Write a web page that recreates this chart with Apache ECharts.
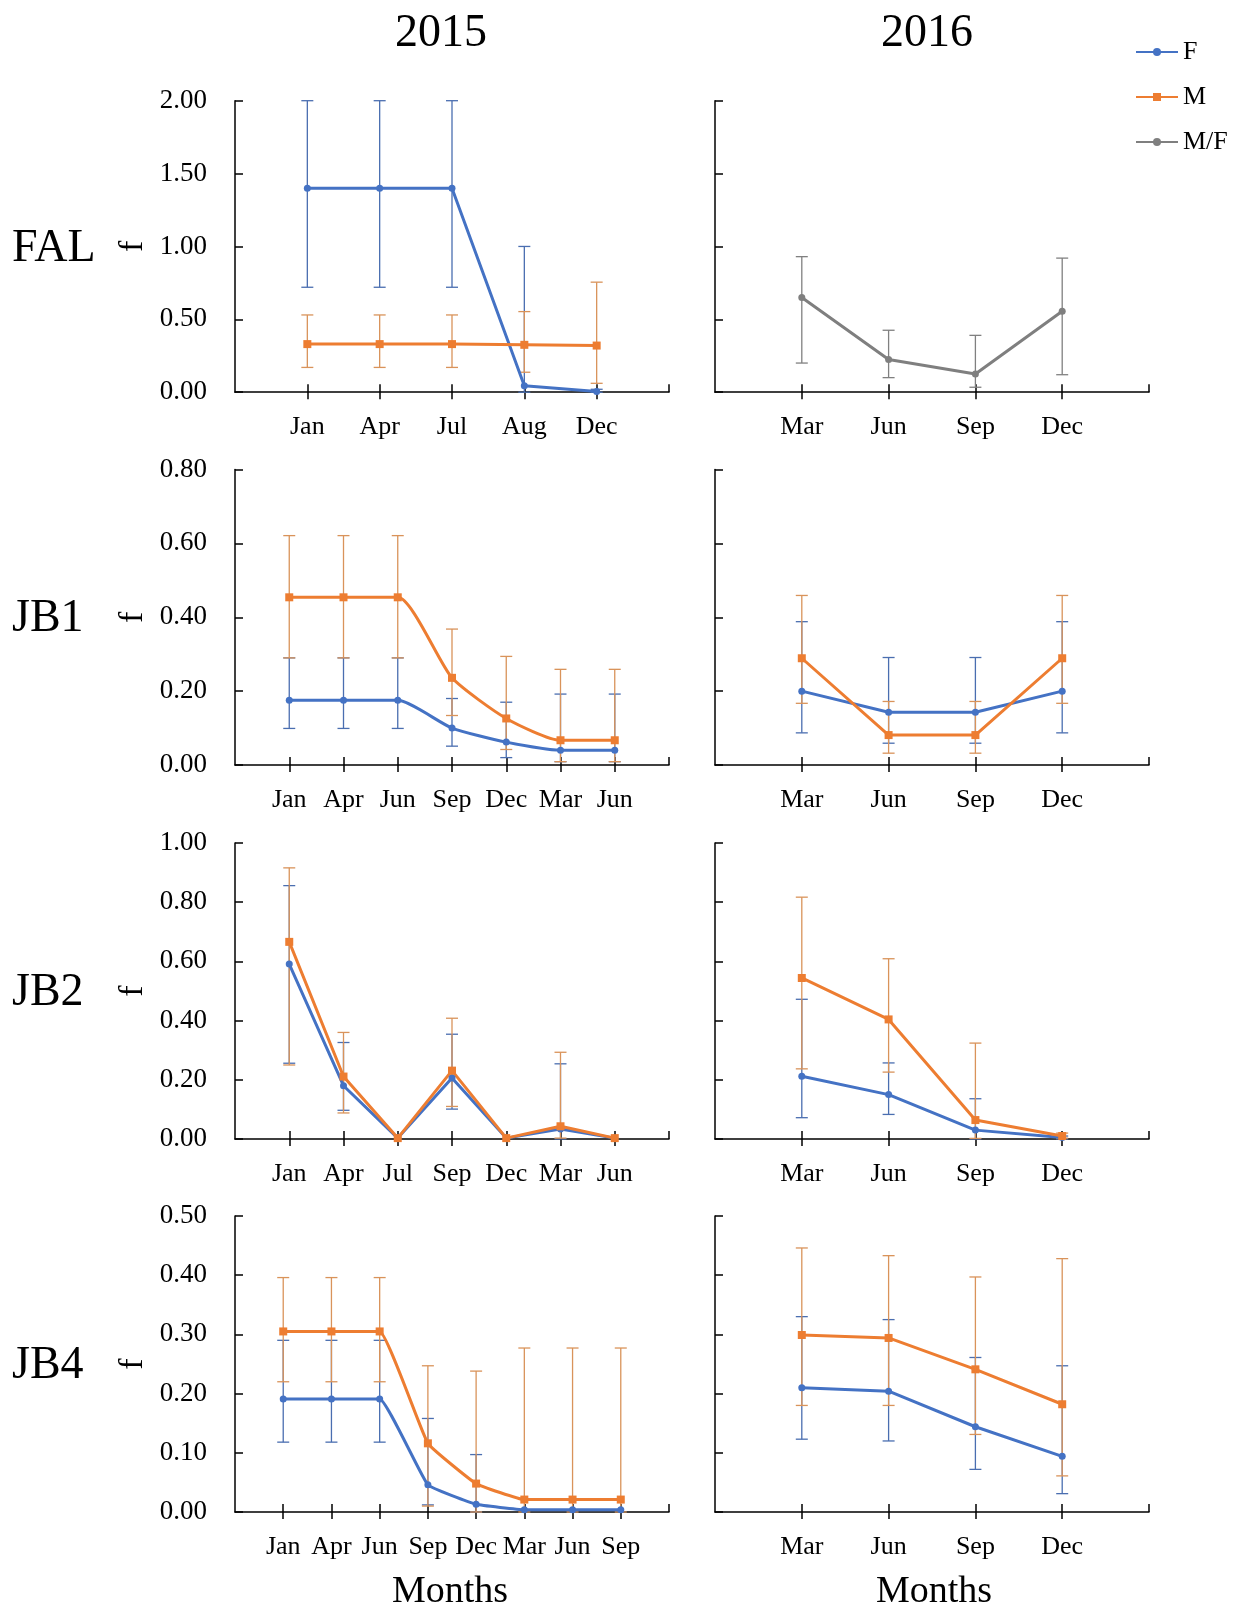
<!DOCTYPE html>
<html>
<head>
<meta charset="utf-8">
<script src="https://cdn.jsdelivr.net/npm/echarts@6/dist/echarts.min.js"></script>
<style>
html,body{margin:0;padding:0;background:#fff;}
#chart{width:1242px;height:1610px;}
</style>
</head>
<body>
<div id="chart"></div>
<script>
// ---------- DATA ----------
const FAL15_cats = ['Jan','Apr','Jul','Aug','Dec'];
const FAL15_F    = [1.40,1.40,1.40,0.045,0.005];
const FAL15_F_lo = [0.72,0.72,0.72,0.0,0.0];
const FAL15_F_hi = [2.00,2.00,2.00,1.00,0.02];
const FAL15_M    = [0.33,0.33,0.33,0.325,0.32];
const FAL15_M_lo = [0.17,0.17,0.17,0.137,0.061];
const FAL15_M_hi = [0.53,0.53,0.53,0.553,0.755];

const FAL16_cats = ['Mar','Jun','Sep','Dec'];
const FAL16_MF    = [0.65,0.225,0.125,0.555];
const FAL16_MF_lo = [0.20,0.10,0.034,0.12];
const FAL16_MF_hi = [0.93,0.425,0.39,0.92];

const JB1_15_cats = ['Jan','Apr','Jun','Sep','Dec','Mar','Jun'];
const JB1_15_F    = [0.175,0.175,0.175,0.10,0.062,0.04,0.04];
const JB1_15_F_lo = [0.099,0.099,0.099,0.051,0.02,0.009,0.009];
const JB1_15_F_hi = [0.29,0.29,0.29,0.18,0.17,0.192,0.192];
const JB1_15_M    = [0.454,0.454,0.454,0.236,0.126,0.067,0.067];
const JB1_15_M_lo = [0.29,0.29,0.29,0.134,0.042,0.009,0.009];
const JB1_15_M_hi = [0.621,0.621,0.621,0.368,0.294,0.259,0.259];

const JB1_16_cats = ['Mar','Jun','Sep','Dec'];
const JB1_16_F    = [0.20,0.143,0.143,0.20];
const JB1_16_F_lo = [0.087,0.059,0.059,0.087];
const JB1_16_F_hi = [0.388,0.291,0.291,0.388];
const JB1_16_M    = [0.289,0.081,0.081,0.289];
const JB1_16_M_lo = [0.167,0.032,0.032,0.167];
const JB1_16_M_hi = [0.459,0.172,0.172,0.459];

const JB2_15_cats = ['Jan','Apr','Jul','Sep','Dec','Mar','Jun'];
const JB2_15_F    = [0.591,0.18,0.003,0.206,0.003,0.034,0.003];
const JB2_15_F_lo = [0.256,0.097,0.003,0.101,0.003,0.0,0.003];
const JB2_15_F_hi = [0.856,0.326,0.003,0.354,0.003,0.254,0.003];
const JB2_15_M    = [0.666,0.211,0.003,0.231,0.003,0.043,0.003];
const JB2_15_M_lo = [0.25,0.088,0.003,0.11,0.003,0.003,0.003];
const JB2_15_M_hi = [0.916,0.36,0.003,0.408,0.003,0.293,0.003];

const JB2_16_cats = ['Mar','Jun','Sep','Dec'];
const JB2_16_F    = [0.212,0.15,0.03,0.005];
const JB2_16_F_lo = [0.072,0.083,0.0,0.0];
const JB2_16_F_hi = [0.472,0.257,0.136,0.01];
const JB2_16_M    = [0.544,0.404,0.064,0.01];
const JB2_16_M_lo = [0.237,0.226,0.002,0.003];
const JB2_16_M_hi = [0.817,0.609,0.324,0.02];

const JB4_15_cats = ['Jan','Apr','Jun','Sep','Dec','Mar','Jun','Sep'];
const JB4_15_F    = [0.191,0.191,0.191,0.046,0.013,0.004,0.004,0.004];
const JB4_15_F_lo = [0.118,0.118,0.118,0.012,0.0,0.004,0.004,0.004];
const JB4_15_F_hi = [0.29,0.29,0.29,0.158,0.097,0.004,0.004,0.004];
const JB4_15_M    = [0.305,0.305,0.305,0.116,0.048,0.021,0.021,0.021];
const JB4_15_M_lo = [0.22,0.22,0.22,0.01,0.0,0.0,0.0,0.0];
const JB4_15_M_hi = [0.396,0.396,0.396,0.247,0.238,0.277,0.277,0.277];

const JB4_16_cats = ['Mar','Jun','Sep','Dec'];
const JB4_16_F    = [0.21,0.204,0.144,0.094];
const JB4_16_F_lo = [0.123,0.12,0.072,0.031];
const JB4_16_F_hi = [0.33,0.325,0.261,0.247];
const JB4_16_M    = [0.299,0.294,0.241,0.182];
const JB4_16_M_lo = [0.18,0.18,0.131,0.061];
const JB4_16_M_hi = [0.446,0.433,0.397,0.428];

const yearTitles = ['2015','2016'];
const rowLabels = ['FAL','JB1','JB2','JB4'];
const yMax = [2.0, 0.8, 1.0, 0.5];
const yInterval = [0.5, 0.2, 0.2, 0.1];

// ---------- LAYOUT ----------
const FONT = '"Liberation Serif", "Times New Roman", serif';
const COL_BLUE = '#4472C4', COL_ORANGE = '#ED7D31', COL_GRAY = '#7F7F7F';
const colLeft = [235, 715];
const colWidth = 434;
const rowTop = [100.7, 469.5, 843, 1216];
const rowH = [291.5, 295.5, 296, 296];

const panels = [
  {row:0,col:0,cats:FAL15_cats,series:[
    {name:'F',v:FAL15_F,lo:FAL15_F_lo,hi:FAL15_F_hi},
    {name:'M',v:FAL15_M,lo:FAL15_M_lo,hi:FAL15_M_hi}]},
  {row:0,col:1,cats:FAL16_cats,series:[
    {name:'M/F',v:FAL16_MF,lo:FAL16_MF_lo,hi:FAL16_MF_hi}]},
  {row:1,col:0,cats:JB1_15_cats,smooth:0.2,series:[
    {name:'F',v:JB1_15_F,lo:JB1_15_F_lo,hi:JB1_15_F_hi},
    {name:'M',v:JB1_15_M,lo:JB1_15_M_lo,hi:JB1_15_M_hi}]},
  {row:1,col:1,cats:JB1_16_cats,series:[
    {name:'F',v:JB1_16_F,lo:JB1_16_F_lo,hi:JB1_16_F_hi},
    {name:'M',v:JB1_16_M,lo:JB1_16_M_lo,hi:JB1_16_M_hi}]},
  {row:2,col:0,cats:JB2_15_cats,series:[
    {name:'F',v:JB2_15_F,lo:JB2_15_F_lo,hi:JB2_15_F_hi},
    {name:'M',v:JB2_15_M,lo:JB2_15_M_lo,hi:JB2_15_M_hi}]},
  {row:2,col:1,cats:JB2_16_cats,series:[
    {name:'F',v:JB2_16_F,lo:JB2_16_F_lo,hi:JB2_16_F_hi},
    {name:'M',v:JB2_16_M,lo:JB2_16_M_lo,hi:JB2_16_M_hi}]},
  {row:3,col:0,cats:JB4_15_cats,smooth:0.1,series:[
    {name:'F',v:JB4_15_F,lo:JB4_15_F_lo,hi:JB4_15_F_hi},
    {name:'M',v:JB4_15_M,lo:JB4_15_M_lo,hi:JB4_15_M_hi}]},
  {row:3,col:1,cats:JB4_16_cats,series:[
    {name:'F',v:JB4_16_F,lo:JB4_16_F_lo,hi:JB4_16_F_hi},
    {name:'M',v:JB4_16_M,lo:JB4_16_M_lo,hi:JB4_16_M_hi}]}
];

const styleOf = {
  'F':   {color:COL_BLUE, symbol:'circle', size:7, err:'#4A6EB0'},
  'M':   {color:COL_ORANGE, symbol:'rect', size:8, err:'#D9935A'},
  'M/F': {color:COL_GRAY, symbol:'circle', size:7, err:'#808080'}
};

function errRender(color){
  return function(params, api){
    const x = api.value(0), lo = api.value(1), hi = api.value(2);
    const pH = api.coord([x, hi]);
    const pL = api.coord([x, lo]);
    const w = 6;
    const st = {stroke:color, lineWidth:1.3};
    return {type:'group', children:[
      {type:'line', shape:{x1:pH[0],y1:pH[1],x2:pL[0],y2:pL[1]}, style:st},
      {type:'line', shape:{x1:pH[0]-w,y1:pH[1],x2:pH[0]+w,y2:pH[1]}, style:st},
      {type:'line', shape:{x1:pL[0]-w,y1:pL[1],x2:pL[0]+w,y2:pL[1]}, style:st}
    ]};
  };
}

const grid = [], xAxis = [], yAxis = [], series = [];
panels.forEach((p, gi) => {
  const top = rowTop[p.row], h = rowH[p.row];
  grid.push({left:colLeft[p.col], width:colWidth, top:top, height:h, containLabel:false});
  const n = p.cats.length;
  const axisData = [''].concat(p.cats).concat([' ']);
  xAxis.push({
    gridIndex:gi, type:'category', data:axisData, boundaryGap:false, position:'bottom',
    axisLine:{lineStyle:{color:'#000', width:1.5}},
    axisTick:{show:true, inside:false, length:7, lineStyle:{color:'#000', width:1.5},
      interval:(idx)=> idx>=1 && idx<=n},
    axisLabel:{show:true, interval:0, margin:22, color:'#000', fontSize:26, fontFamily:FONT},
    splitLine:{show:false}
  });
  xAxis.push({
    gridIndex:gi, type:'category', data:axisData, boundaryGap:false, position:'top', offset:-h,
    axisLine:{show:false},
    axisTick:{show:true, inside:false, length:8, lineStyle:{color:'#000', width:1.5},
      interval:(idx)=> idx>=1},
    axisLabel:{show:false}, splitLine:{show:false}
  });
  yAxis.push({
    gridIndex:gi, type:'value', min:0, max:yMax[p.row], interval:yInterval[p.row],
    axisLine:{show:true, lineStyle:{color:'#000', width:1.5}},
    axisTick:{show:true, inside:true, length:8, lineStyle:{color:'#000', width:1.5}},
    axisLabel:{show:p.col===0, margin:28, color:'#000', fontSize:27, fontFamily:FONT,
      formatter:(v)=>v.toFixed(2)},
    splitLine:{show:false},
    name: p.col===0 ? 'f' : '', nameLocation:'middle', nameGap:85, nameRotate:90,
    nameTextStyle:{fontSize:34, fontFamily:FONT, color:'#000'}
  });
  const xi = gi*2;
  p.series.forEach(s => {
    const st = styleOf[s.name];
    const errData = [];
    s.v.forEach((v,i)=>{ if (s.hi[i]-s.lo[i] > 0.002) errData.push([i+1, s.lo[i], s.hi[i]]); });
    series.push({
      type:'custom', xAxisIndex:xi, yAxisIndex:gi, renderItem:errRender(st.err),
      data:errData, encode:{x:0, y:[1,2]}, z:2, silent:true, clip:false
    });
  });
  p.series.forEach(s => {
    const st = styleOf[s.name];
    series.push({
      name:s.name, type:'line', xAxisIndex:xi, yAxisIndex:gi,
      data:s.v.map((v,i)=>[i+1, v]),
      smooth:p.smooth || false,
      symbol:st.symbol, symbolSize:st.size, showSymbol:true,
      lineStyle:{color:st.color, width:3}, itemStyle:{color:st.color},
      z:3, animation:false
    });
  });
});

const graphic = [];
yearTitles.forEach((t,i)=>{
  graphic.push({type:'text', x:[441,927][i], y:34, style:{text:t, font:'46px '+FONT, fill:'#000', textAlign:'center', textVerticalAlign:'middle'}});
});
rowLabels.forEach((t,i)=>{
  graphic.push({type:'text', x:12, y:rowTop[i]+rowH[i]/2 + 2, style:{text:t, font:'46px '+FONT, fill:'#000', textAlign:'left', textVerticalAlign:'middle'}});
});
[450, 934].forEach(x=>{
  graphic.push({type:'text', x:x, y:1592, style:{text:'Months', font:'38px '+FONT, fill:'#000', textAlign:'center', textVerticalAlign:'middle'}});
});

const chart = echarts.init(document.getElementById('chart'), null, {renderer:'canvas'});
chart.setOption({
  animation:false,
  backgroundColor:'#fff',
  grid, xAxis, yAxis, series, graphic,
  legend:{
    data:['F','M','M/F'], orient:'vertical', left:1130, top:34,
    itemWidth:42, itemHeight:10, itemGap:19,
    textStyle:{fontSize:26, fontFamily:FONT, color:'#000', lineHeight:26},
    selectedMode:false
  }
});
</script>
</body>
</html>
